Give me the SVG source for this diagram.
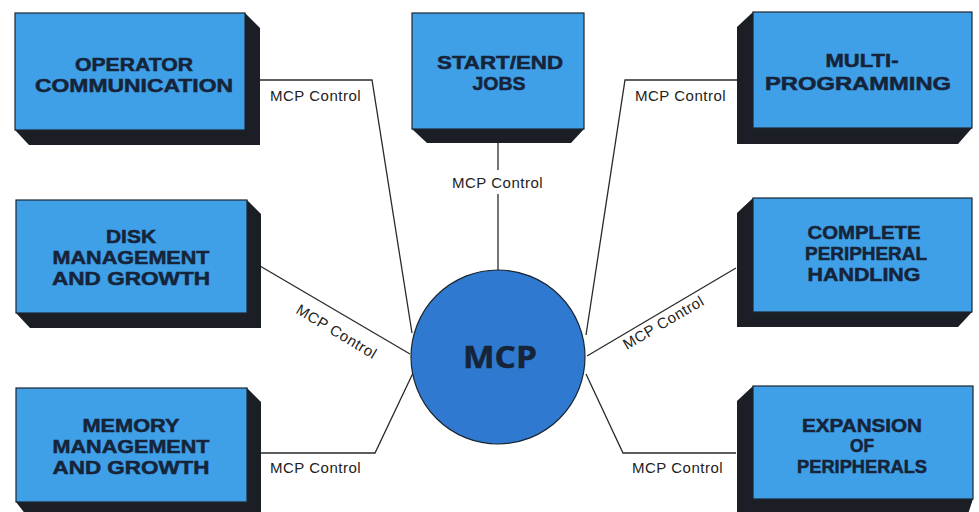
<svg xmlns="http://www.w3.org/2000/svg" width="979" height="512" viewBox="0 0 979 512">
<style>
.face{fill:#3fa0e8;stroke:#1c2530;stroke-width:1.2}
.shadow{fill:#1c1e26}
.lbl{font-family:"Liberation Sans",Arial,sans-serif;font-weight:bold;font-size:18px;fill:#16243a;stroke:#16243a;stroke-width:0.5;text-anchor:middle}
.conn{fill:none;stroke:#2a2a2a;stroke-width:1.3}
.ctl{font-family:"Liberation Sans","DejaVu Sans",sans-serif;font-size:15px;fill:#222;letter-spacing:0.5px}
.mcp{font-family:"Open Sans","Liberation Sans",sans-serif;font-weight:bold;font-size:30px;fill:#16243a;stroke:#16243a;stroke-width:0.5;text-anchor:middle}
</style>
<rect width="979" height="512" fill="#ffffff"/>
<g id="connectors">
<polyline class="conn" points="259,80 372,80 412,333"/>
<line class="conn" x1="498" y1="143" x2="498" y2="170"/>
<line class="conn" x1="498" y1="194" x2="498" y2="270"/>
<polyline class="conn" points="737,80 625,80 586,335"/>
<line class="conn" x1="260" y1="266" x2="410" y2="354"/>
<line class="conn" x1="736" y1="268" x2="587" y2="356"/>
<polyline class="conn" points="259,453 375,453 413,373"/>
<polyline class="conn" points="736,453 623,453 586,374"/>
<text class="ctl" x="270" y="101">MCP Control</text>
<text class="ctl" x="452" y="188">MCP Control</text>
<text class="ctl" x="635" y="101">MCP Control</text>
<text class="ctl" text-anchor="middle" transform="translate(334,336) rotate(31)">MCP Control</text>
<text class="ctl" text-anchor="middle" transform="translate(666,327) rotate(-30.3)">MCP Control</text>
<text class="ctl" x="270" y="473">MCP Control</text>
<text class="ctl" x="632" y="473">MCP Control</text>
</g>
<g id="op-comm">
<polygon class="shadow" points="245,13 260,28 260,145 29,145 15,130"/>
<rect class="face" x="15" y="13" width="230" height="117"/>
<text class="lbl" x="134" y="71" textLength="118" lengthAdjust="spacingAndGlyphs">OPERATOR</text>
<text class="lbl" x="134" y="92" textLength="198" lengthAdjust="spacingAndGlyphs">COMMUNICATION</text>
</g>
<g id="start-end">
<polygon class="shadow" points="412,129 427,143 571,143 584,129"/>
<rect class="face" x="412" y="13" width="172" height="116"/>
<text class="lbl" x="500" y="69" textLength="126" lengthAdjust="spacingAndGlyphs">START/END</text>
<text class="lbl" x="499" y="90" textLength="53" lengthAdjust="spacingAndGlyphs">JOBS</text>
</g>
<g id="multi">
<polygon class="shadow" points="753,12 737,27 737,144 958,144 972,128"/>
<rect class="face" x="753" y="12" width="219" height="116"/>
<text class="lbl" x="862" y="67" textLength="73" lengthAdjust="spacingAndGlyphs">MULTI-</text>
<text class="lbl" x="858" y="90" textLength="186" lengthAdjust="spacingAndGlyphs">PROGRAMMING</text>
</g>
<g id="disk">
<polygon class="shadow" points="247,200 261,214 261,328 30,328 16,313"/>
<rect class="face" x="16" y="200" width="231" height="113"/>
<text class="lbl" x="131" y="243" textLength="50" lengthAdjust="spacingAndGlyphs">DISK</text>
<text class="lbl" x="131" y="264" textLength="157" lengthAdjust="spacingAndGlyphs">MANAGEMENT</text>
<text class="lbl" x="131" y="285" textLength="158" lengthAdjust="spacingAndGlyphs">AND GROWTH</text>
</g>
<g id="periph">
<polygon class="shadow" points="753,198 737,213 737,327 958,327 972,312"/>
<rect class="face" x="753" y="198" width="219" height="114"/>
<text class="lbl" x="864" y="239" textLength="113" lengthAdjust="spacingAndGlyphs">COMPLETE</text>
<text class="lbl" x="866" y="260" textLength="122" lengthAdjust="spacingAndGlyphs">PERIPHERAL</text>
<text class="lbl" x="864" y="281" textLength="113" lengthAdjust="spacingAndGlyphs">HANDLING</text>
</g>
<g id="memory">
<polygon class="shadow" points="247,388 261,402 261,520 30,520 16,502"/>
<rect class="face" x="16" y="388" width="231" height="114"/>
<text class="lbl" x="131" y="432" textLength="97" lengthAdjust="spacingAndGlyphs">MEMORY</text>
<text class="lbl" x="131" y="453" textLength="157" lengthAdjust="spacingAndGlyphs">MANAGEMENT</text>
<text class="lbl" x="131" y="474" textLength="157" lengthAdjust="spacingAndGlyphs">AND GROWTH</text>
</g>
<g id="expansion">
<polygon class="shadow" points="753,386 737,401 737,520 966,520 973,499"/>
<rect class="face" x="753" y="386" width="220" height="113"/>
<text class="lbl" x="862" y="432" textLength="120" lengthAdjust="spacingAndGlyphs">EXPANSION</text>
<text class="lbl" x="862" y="452" textLength="24" lengthAdjust="spacingAndGlyphs">OF</text>
<text class="lbl" x="862" y="473" textLength="130" lengthAdjust="spacingAndGlyphs">PERIPHERALS</text>
</g>
<g id="mcp">
<circle cx="498" cy="357" r="87" fill="#2f7ad0" stroke="#1c2530" stroke-width="1.2"/>
<text class="mcp" x="500" y="368" textLength="74" lengthAdjust="spacingAndGlyphs">MCP</text>
</g>
</svg>
